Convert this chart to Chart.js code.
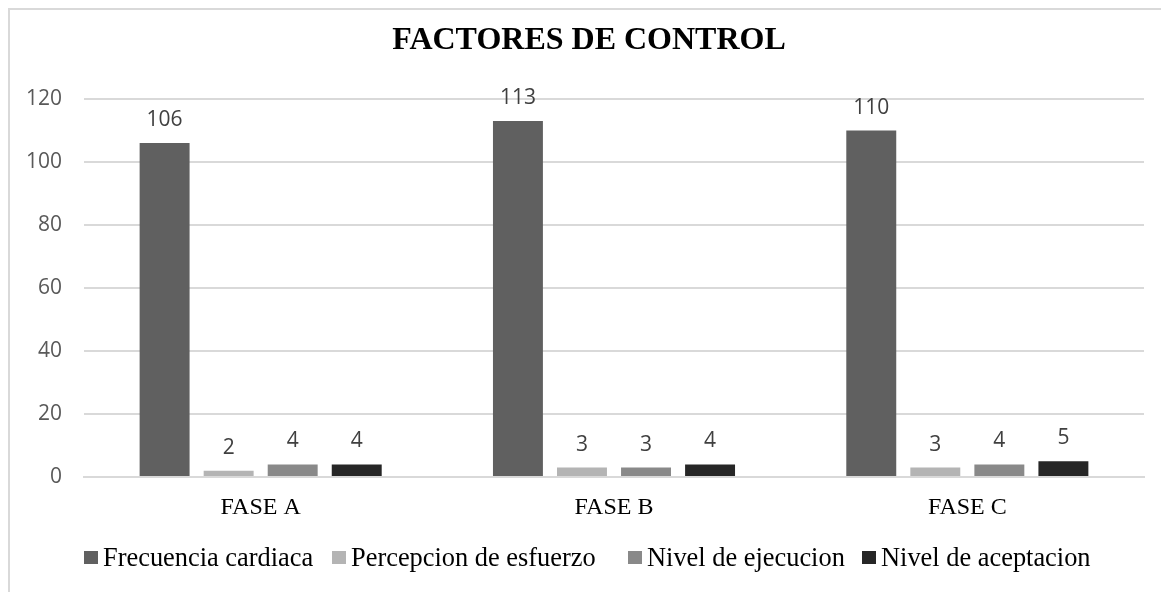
<!DOCTYPE html>
<html>
<head>
<meta charset="utf-8">
<script src="https://cdn.jsdelivr.net/npm/chart.js@4.4.1/dist/chart.umd.min.js"></script>
<style>
  html, body { margin: 0; padding: 0; background: #fff; overflow: hidden; }
  #frame { position: absolute; left: 8px; top: 8px; width: 1300px; height: 800px; border: 2px solid #d9d9d9; box-sizing: border-box; }
  #wrap { position: absolute; left: 0; top: 0; width: 1161px; height: 592px; }
</style>
</head>
<body>
<div id="frame"></div>
<div id="wrap"><canvas id="c" width="1161" height="592"></canvas></div>
<script>
const categories = ["FASE A", "FASE B", "FASE C"];
const frecuenciaCardiaca = [106, 113, 110];
const percepcionEsfuerzo = [2, 3, 3];
const nivelEjecucion = [4, 3, 4];
const nivelAceptacion = [4, 4, 5];
const seriesNames = ["Frecuencia cardiaca", "Percepcion de esfuerzo", "Nivel de ejecucion", "Nivel de aceptacion"];
const seriesColors = ["#606060", "#b4b4b4", "#898989", "#262626"];
const yTicks = { min: 0, max: 120, step: 20 };
const chartTitle = "FACTORES DE CONTROL";

const SERIF = '"Liberation Serif", "Times New Roman", serif';

const valueLabels = {
  id: 'valueLabels',
  afterDatasetsDraw(chart) {
    const ctx = chart.ctx;
    ctx.save();
    ctx.font = '21px "Open Sans", sans-serif';
    ctx.fillStyle = '#404040';
    ctx.textAlign = 'center';
    ctx.textBaseline = 'alphabetic';
    chart.data.datasets.forEach((ds, i) => {
      const meta = chart.getDatasetMeta(i);
      meta.data.forEach((bar, j) => {
        ctx.fillText(String(ds.data[j]), bar.x, bar.y - 17);
      });
    });
    ctx.restore();
  }
};

// title, centred like the original (slightly right of canvas centre)
const customTitle = {
  id: 'customTitle',
  afterDraw(chart) {
    const ctx = chart.ctx;
    ctx.save();
    ctx.font = 'bold 32px ' + SERIF;
    ctx.fillStyle = '#000';
    ctx.textAlign = 'center';
    ctx.textBaseline = 'middle';
    ctx.fillText(chartTitle, 589, 41);
    ctx.restore();
  }
};

// legend drawn in the style of the original (box + text, irregular spacing)
const legendBoxX = [84, 332, 628, 862];
const customLegend = {
  id: 'customLegend',
  afterDraw(chart) {
    const ctx = chart.ctx;
    ctx.save();
    ctx.font = '26.4px ' + SERIF;
    ctx.textAlign = 'left';
    ctx.textBaseline = 'alphabetic';
    chart.data.datasets.forEach((ds, i) => {
      const x = legendBoxX[i];
      ctx.fillStyle = ds.backgroundColor;
      ctx.fillRect(x, 551, 14, 13);
      ctx.fillStyle = '#000';
      ctx.fillText(ds.label, x + 19, 566);
    });
    ctx.restore();
  }
};

const allSeries = [frecuenciaCardiaca, percepcionEsfuerzo, nivelEjecucion, nivelAceptacion];

new Chart(document.getElementById('c'), {
  type: 'bar',
  data: {
    labels: categories,
    datasets: allSeries.map((d, i) => ({
      label: seriesNames[i],
      data: d,
      backgroundColor: seriesColors[i],
      borderWidth: 0,
      categoryPercentage: 0.725,
      barPercentage: 0.78
    }))
  },
  options: {
    responsive: false,
    animation: false,
    devicePixelRatio: 1,
    layout: { padding: { left: 0, right: 17, top: 99, bottom: 55 } },
    plugins: {
      title: { display: false },
      legend: { display: false },
      tooltip: { enabled: false }
    },
    scales: {
      x: {
        grid: { display: false },
        border: { color: '#d9d9d9', width: 2 },
        ticks: {
          color: '#000',
          font: { family: SERIF, size: 24 },
          padding: 8
        },
        afterFit(scale) { scale.height = 60; }
      },
      y: {
        min: yTicks.min,
        max: yTicks.max,
        ticks: {
          stepSize: yTicks.step,
          color: '#595959',
          font: { family: '"Open Sans", sans-serif', size: 21 },
          padding: 22
        },
        grid: { color: '#d9d9d9', lineWidth: 2, drawTicks: false },
        border: { display: false },
        afterFit(scale) { scale.width = 84; }
      }
    }
  },
  plugins: [valueLabels, customTitle, customLegend]
});
</script>
</body>
</html>
